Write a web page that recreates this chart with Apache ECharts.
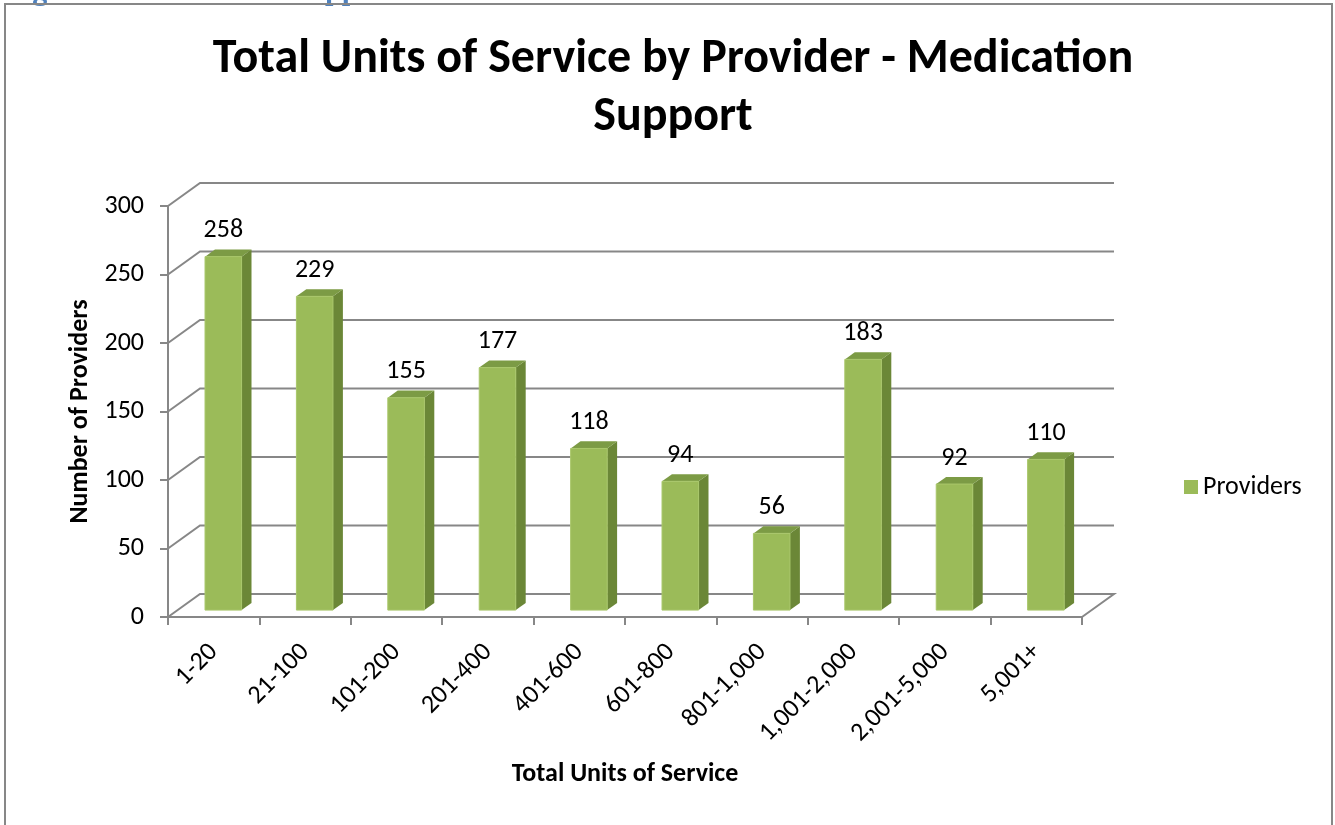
<!DOCTYPE html>
<html>
<head>
<meta charset="utf-8">
<script src="https://cdn.jsdelivr.net/npm/echarts@6/dist/echarts.min.js"></script>
<style>
html,body{margin:0;padding:0;background:#fff;}
#chart{width:1335px;height:825px;}
</style>
</head>
<body>
<div id="chart"></div>
<script>
// ---- data ----
const categories = ['1-20','21-100','101-200','201-400','401-600','601-800','801-1,000','1,001-2,000','2,001-5,000','5,001+'];
const providers = [258, 229, 155, 177, 118, 94, 56, 183, 92, 110];
const yTicks = [0, 50, 100, 150, 200, 250, 300];
const seriesName = 'Providers';
const chartTitle = 'Total Units of Service by Provider - Medication\nSupport';
const xAxisTitle = 'Total Units of Service';
const yAxisTitle = 'Number of Providers';
const captionText = 'Figure 12: Medication Support';

// ---- style constants ----
const FONT = 'Carlito, Calibri, Lato, "Open Sans", sans-serif';
const GRID_COLOR = '#878787';
const DEPTH = [32, -23];       // full depth vector of the 3D box (px)
const BAR_FRONT = 0.30;        // bar front face position along depth
const BAR_DEPTH = 0.31;        // bar thickness along depth

const chart = echarts.init(document.getElementById('chart'), null, {renderer: 'canvas'});

function wallRender(params, api) {
  const cs = params.coordSys;
  const x0 = cs.x, x1 = cs.x + cs.width;
  const v = api.value(1);
  const y = api.coord([0, v])[1];
  const dx = DEPTH[0], dy = DEPTH[1];
  let pts;
  if (v === 0) {
    pts = [[x0, y], [x0 + dx, y + dy], [x1 + dx, y + dy], [x1, y]];
  } else {
    pts = [[x0, y], [x0 + dx, y + dy], [x1 + dx, y + dy]];
  }
  return {
    type: 'polyline',
    shape: {points: pts},
    style: {stroke: GRID_COLOR, lineWidth: 2, fill: null}
  };
}

function barRender(params, api) {
  const i = api.value(0);
  const v = api.value(1);
  const top = api.coord([i, v]);
  const base = api.coord([i, 0]);
  const band = api.size([1, 0])[0];
  const fw = band * 0.40;
  const sx = DEPTH[0] * BAR_FRONT, sy = DEPTH[1] * BAR_FRONT;
  const ddx = DEPTH[0] * BAR_DEPTH, ddy = DEPTH[1] * BAR_DEPTH;
  const xl = top[0] - fw / 2 + sx, xr = xl + fw;
  const yt = top[1] + sy, yb = base[1] + sy;
  return {
    type: 'group',
    children: [
      {type: 'polygon', shape: {points: [[xr, yt], [xr + ddx, yt + ddy], [xr + ddx, yb + ddy], [xr, yb]]},
       style: {fill: '#6b8737'}},
      {type: 'polygon', shape: {points: [[xl, yt], [xl + ddx, yt + ddy], [xr + ddx, yt + ddy], [xr, yt]]},
       style: {fill: '#7c9b45'}},
      {type: 'rect', shape: {x: xl, y: yt, width: fw, height: yb - yt},
       style: {fill: '#9bbb59', stroke: '#a9c76a', lineWidth: 1}},
      {type: 'text', x: (xl + xr) / 2, y: yt - 13,
       style: {text: String(v), fill: '#000', font: '26px ' + FONT, align: 'center', verticalAlign: 'bottom'}}
    ]
  };
}

const option = {
  backgroundColor: '#fff',
  animation: false,
  title: {
    text: chartTitle,
    left: 668, top: 26, textAlign: 'center',
    textStyle: {fontFamily: FONT, fontSize: 48, fontWeight: 'bold', color: '#000', lineHeight: 58}
  },
  legend: {
    data: [{name: seriesName, icon: 'rect'}],
    left: 1179, top: 469,
    itemWidth: 14, itemHeight: 14, itemGap: 6,
    textStyle: {fontFamily: FONT, fontSize: 26, color: '#000'}
  },
  grid: {left: 168, right: 253, top: 206, bottom: 208},
  xAxis: {
    type: 'category',
    data: categories,
    name: xAxisTitle,
    nameLocation: 'middle',
    nameGap: 144,
    nameTextStyle: {fontFamily: FONT, fontSize: 26, fontWeight: 'bold', color: '#000'},
    axisLine: {show: true, lineStyle: {color: GRID_COLOR, width: 2}},
    axisTick: {show: true, length: 8, lineStyle: {color: GRID_COLOR, width: 2}},
    axisLabel: {interval: 0, rotate: 45, margin: 31, fontFamily: FONT, fontSize: 26, color: '#000'},
    splitLine: {show: false}
  },
  yAxis: {
    type: 'value',
    min: 0, max: 300, interval: 50,
    name: yAxisTitle,
    nameLocation: 'middle',
    nameGap: 75,
    nameTextStyle: {fontFamily: FONT, fontSize: 26, fontWeight: 'bold', color: '#000'},
    axisLine: {show: true, lineStyle: {color: GRID_COLOR, width: 2}},
    axisTick: {show: true, length: 8, lineStyle: {color: GRID_COLOR, width: 2}},
    axisLabel: {margin: 24, fontFamily: FONT, fontSize: 26, color: '#000'},
    splitLine: {show: false}
  },
  series: [
    {
      name: 'wall',
      type: 'custom',
      renderItem: wallRender,
      data: yTicks.map(v => [0, v]),
      encode: {x: 0, y: 1},
      clip: false, silent: true, z: 1
    },
    {
      name: seriesName,
      type: 'custom',
      renderItem: barRender,
      itemStyle: {color: '#9bbb59'},
      data: providers.map((v, i) => [i, v]),
      encode: {x: 0, y: 1},
      clip: false, z: 3
    }
  ],
  graphic: [
    {type: 'text', left: 8, top: -23, z: 0,
     style: {text: captionText, fill: '#4f81bd', font: 'bold 29px Cambria, "DejaVu Serif", serif'}},
    {type: 'rect', shape: {x: 5, y: 4, width: 1327, height: 840}, z: 10,
     style: {fill: null, stroke: GRID_COLOR, lineWidth: 2}}
  ]
};
chart.setOption(option);
</script>
</body>
</html>
